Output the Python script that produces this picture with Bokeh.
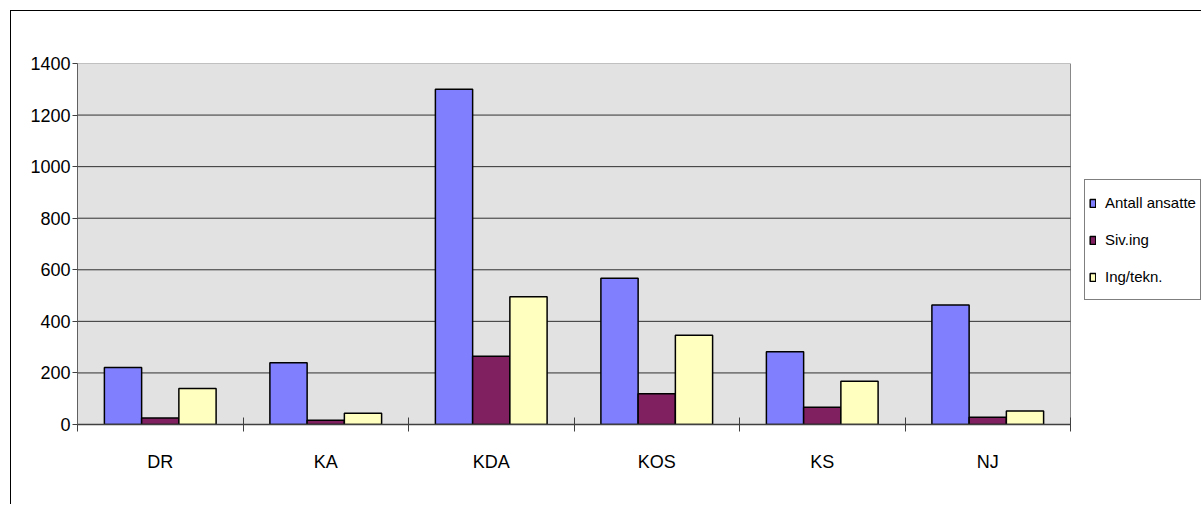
from bokeh.plotting import figure
from bokeh.models import (ColumnDataSource, Range1d, FixedTicker, Legend, LegendItem)
from bokeh.transform import dodge
from bokeh.embed import file_html
from bokeh.resources import INLINE

# Staff per unit
categories = ["DR", "KA", "KDA", "KOS", "KS", "NJ"]
antall_ansatte = [221, 239, 1300, 567, 282, 463]
siv_ing = [25, 16, 265, 119, 67, 28]
ing_tekn = [140, 44, 495, 346, 168, 52]
y_ticks = [0, 200, 400, 600, 800, 1000, 1200, 1400]

series_labels = ["Antall ansatte", "Siv.ing", "Ing/tekn."]
colors = ["#8080FF", "#802060", "#FFFFC0"]

FONT = "Liberation Sans, Arial, sans-serif"

n = len(categories)
y_max = y_ticks[-1]
centers = [i + 0.5 for i in range(n)]
source = ColumnDataSource(data=dict(
    x=centers,
    antall=antall_ansatte,
    siving=siv_ing,
    ingtekn=ing_tekn,
))

# The frame runs to the right edge so the legend can sit beside the bars;
# the grey plot area itself covers only the category span [0, n].
FRAME_W, AREA_W = 1125, 993
p = figure(
    width=1191, height=494,
    x_range=Range1d(0, n * FRAME_W / AREA_W),
    y_range=Range1d(0, y_max),
    output_backend="svg",
    toolbar_location=None,
    min_border_left=66, min_border_right=0,
    min_border_top=52, min_border_bottom=81,
    background_fill_color="white",
    border_fill_color="white",
)
p.margin = (10, 0, 0, 10)
p.styles = {"border-top": "1px solid #000000", "border-left": "1px solid #000000"}
p.outline_line_color = None
p.xgrid.grid_line_color = None
p.ygrid.grid_line_color = None

# plot area
p.quad(left=[0], right=[n], bottom=[0], top=[y_max],
       fill_color="#E2E2E2", line_color="#888888", line_width=1)

# horizontal gridlines across the plot area
grid_y = y_ticks[1:-1]
p.segment(x0=[0] * len(grid_y), x1=[n] * len(grid_y), y0=grid_y, y1=grid_y,
          line_color="#303030", line_width=1)

bar_w = 0.225
renderers = []
for col, off, color in zip(["antall", "siving", "ingtekn"], [-bar_w, 0.0, bar_w], colors):
    r = p.vbar(x=dodge("x", off), top=col, width=bar_w, bottom=0, source=source,
               fill_color=color, line_color="black", line_width=1.5)
    renderers.append(r)

# x axis: boundary ticks crossing the axis, labels centred in each category
xa = p.xaxis[0]
xa.bounds = (0, n)
xa.ticker = FixedTicker(ticks=centers, minor_ticks=list(range(n + 1)))
xa.major_label_overrides = {c: name for c, name in zip(centers, categories)}
xa.major_tick_in = 0
xa.major_tick_out = 0
xa.minor_tick_in = 7
xa.minor_tick_out = 7
xa.minor_tick_line_color = "#404040"
xa.axis_line_color = "#404040"
xa.axis_line_width = 1.5
xa.major_label_text_font = FONT
xa.major_label_text_font_size = "18px"
xa.major_label_text_color = "black"
xa.major_label_standoff = 20

ya = p.yaxis[0]
ya.ticker = FixedTicker(ticks=y_ticks)
ya.major_tick_in = 0
ya.major_tick_out = 5
ya.minor_tick_in = 0
ya.minor_tick_out = 0
ya.major_tick_line_color = "#404040"
ya.axis_line_color = "#606060"
ya.major_label_text_font = FONT
ya.major_label_text_font_size = "18px"
ya.major_label_text_color = "black"
ya.major_label_standoff = 2

legend = Legend(
    items=[LegendItem(label=lab, renderers=[r]) for lab, r in zip(series_labels, renderers)],
    location=(1007, 124),
    border_line_color="black", border_line_width=1,
    background_fill_color="white", background_fill_alpha=1.0,
    label_text_font=FONT, label_text_font_size="15px", label_text_color="black",
    glyph_width=7, glyph_height=10,
    label_standoff=9, label_height=37, spacing=0, padding=4, margin=0,
)
p.add_layout(legend)

open("out.html", "w").write(file_html(p, INLINE))
